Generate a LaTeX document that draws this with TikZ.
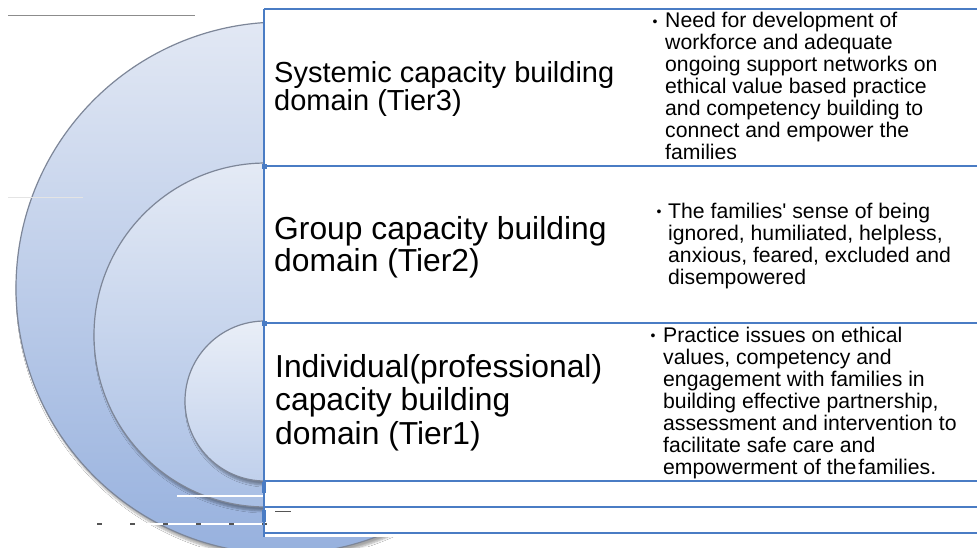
\documentclass[tikz,border=0pt]{standalone}
\usepackage{fontspec}
\setmainfont{Liberation Sans}
\usetikzlibrary{shadows.blur}

\definecolor{lineblue}{HTML}{4A7CC4}
\definecolor{ringedge}{HTML}{7D8698}
\definecolor{outertop}{HTML}{E2E8F4}
\definecolor{outerbot}{HTML}{97B1DE}
\definecolor{midtop}{HTML}{E4EAF5}
\definecolor{midbot}{HTML}{A8BEE4}
\definecolor{innertop}{HTML}{E9EEF7}
\definecolor{innerbot}{HTML}{C0D0EC}
\definecolor{strayrule}{HTML}{8C8C8C}
\definecolor{faintrule}{HTML}{E4E4E4}
\definecolor{darkdash}{HTML}{555555}

% #1 font size, #2 line distance, #3 lines
\newcommand\leftlines[3]{\parbox[t]{400pt}{\raggedright\fontsize{#1}{#2}\selectfont #3}}
\newcommand\rightlines[1]{\parbox[t]{300pt}{\raggedright\fontsize{21.2}{22.1}\selectfont #1}}

\tikzset{
  ring/.style={draw=ringedge, line width=1.2pt,
    blur shadow={shadow xshift=2pt, shadow yshift=-4pt, shadow blur steps=6, shadow opacity=35}},
  tline/.style={draw=lineblue, line width=1.6pt},
  label/.style={anchor=base west, inner sep=0pt, text=black},
  bulletmark/.style={anchor=base, inner sep=0pt, font=\fontsize{14}{14}\selectfont},
}

\begin{document}
\begin{tikzpicture}[x=1pt, y=-1pt]
\useasboundingbox (0,0) rectangle (977,547);
\fill[white] (0,0) rectangle (977,547);

% nested rings, outermost first
\path[ring, top color=outertop, bottom color=outerbot]
  (282,288) circle[radius=266pt];
\path[ring, top color=midtop, bottom color=midbot]
  (266,335) circle[radius=172pt];
\path[ring, top color=innertop, bottom color=innerbot]
  (265,401) circle[radius=80pt];

% table area covers the right half of the rings
\fill[white] (264,0) rectangle (977,537);

% stray rules in the left margin
\draw[strayrule, line width=1.5pt] (8,15.5) -- (195,15.5);
\draw[faintrule, line width=1pt] (8,197) -- (83,197);
\draw[white, line width=1.5pt] (177,496) -- (264,496);
\draw[white, line width=1.5pt] (83,524) -- (275,524);
\draw[darkdash, line width=1.5pt, dash pattern=on 5pt off 28pt] (97,524) -- (275,524);

% table grid
\coordinate (tl) at (264,9);
\coordinate (tr) at (977,9);
\coordinate (r1l) at (264,166);
\coordinate (r1r) at (977,166);
\coordinate (r2l) at (264,323);
\coordinate (r2r) at (977,323);
\coordinate (r3l) at (264,481);
\coordinate (r3r) at (977,481);
\coordinate (r4l) at (264,507);
\coordinate (r4r) at (977,507);
\coordinate (r5l) at (264,533);
\coordinate (r5r) at (977,533);
\coordinate (bl) at (264,537);

\draw[tline] (tl) -- (tr);
\draw[tline] (r1l) -- (r1r);
\draw[tline] (r2l) -- (r2r);
\draw[tline] (r3l) -- (r3r);
\draw[tline] (r4l) -- (r4r);
\draw[tline] (r5l) -- (r5r);
\draw[tline] (tl) -- (bl);

% small joint marks on the left rule
\fill[lineblue] (261.5,163.5) rectangle (266.5,168.5);
\fill[lineblue] (261.5,320.5) rectangle (266.5,325.5);
\draw[lineblue, line width=3.5pt] (264,482) -- (264,493);
\draw[lineblue, line width=3.5pt] (264,510) -- (264,522);
\draw[darkdash, line width=1pt] (275,511) -- (291,511);

% domain labels
\node[label] (tier3) at (274,82) {\leftlines{29}{28.3}{Systemic capacity building\\domain (Tier3)}};
\node[label] (tier2) at (274,239) {\leftlines{31.8}{32}{Group capacity building\\domain (Tier2)}};
\node[label] (tier1) at (275,377) {\leftlines{31.8}{33.5}{Individual(professional)\\capacity building\\domain (Tier1)}};

% descriptions
\node[bulletmark] (b3) at (655,26) {\textbullet};
\node[label] (d3) at (665,27) {\rightlines{Need for development of\\workforce and adequate\\ongoing support networks on\\ethical value based practice\\and competency building to\\connect and empower the\\families}};

\node[bulletmark] (b2) at (659,216) {\textbullet};
\node[label] (d2) at (668,218) {\rightlines{The families\textquotesingle{} sense of being\\ignored, humiliated, helpless,\\anxious, feared, excluded and\\disempowered}};

\node[bulletmark] (b1) at (653,340) {\textbullet};
\node[label] (d1) at (663,342) {\rightlines{Practice issues on ethical\\values, competency and\\engagement with families in\\building effective partnership,\\assessment and intervention to\\facilitate safe care and\\empowerment of the\hspace{2pt}families.}};
\end{tikzpicture}
\end{document}
